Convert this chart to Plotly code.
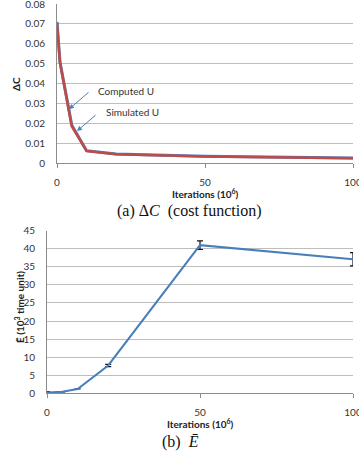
import plotly.graph_objects as go

# ---- data (a) ----
iters_a = [0, 1, 2, 5, 10, 20, 50, 100]
computed_u = [0.071, 0.051, 0.043, 0.019, 0.0062, 0.0045, 0.0034, 0.0025]
simulated_u = [0.0705, 0.0505, 0.0425, 0.0185, 0.006, 0.0044, 0.0033, 0.0024]
yticks_a = [0, 0.01, 0.02, 0.03, 0.04, 0.05, 0.06, 0.07, 0.08]
yticklabels_a = ["0", "0.01", "0.02", "0.03", "0.04", "0.05", "0.06", "0.07", "0.08"]

# ---- data (b) ----
iters_b = [0, 5, 10, 20, 50, 100]
e_bar = [0.2, 0.4, 1.2, 7.7, 41.0, 37.1]
e_err = [0.3, 0.0, 0.0, 0.3, 1.2, 1.85]
yticks_b = [0, 5, 10, 15, 20, 25, 30, 35, 40, 45]
xticks = [0, 50, 100]

W, H = 359, 456
def px(x):
    return x / W
def py(y):
    return 1 - y / H

tick_font = dict(family="Lato, Open Sans, sans-serif", size=10, color="#333333")
grid_col = "#BEBEBE"
axis_col = "#8C8C8C"

fig = go.Figure()

fig.add_trace(go.Scatter(x=iters_a, y=computed_u, mode="lines", name="Computed U",
                         line=dict(color="#4F81BD", width=3), xaxis="x", yaxis="y",
                         showlegend=False))
fig.add_trace(go.Scatter(x=iters_a, y=simulated_u, mode="lines", name="Simulated U",
                         line=dict(color="#BE4B48", width=2.6), xaxis="x", yaxis="y",
                         showlegend=False))

fig.add_trace(go.Scatter(x=iters_b, y=e_bar, mode="lines", name="E",
                         line=dict(color="#4A7EBB", width=2),
                         error_y=dict(type="data", array=e_err, visible=True,
                                      color="#111111", thickness=1.2, width=3),
                         xaxis="x2", yaxis="y2", showlegend=False))

common_x = dict(range=[0, 100], tickvals=xticks, ticktext=[str(v) for v in xticks],
                showgrid=False, showline=True, linecolor=axis_col, linewidth=1,
                ticks="outside", ticklen=4, tickcolor=axis_col, tickfont=tick_font,
                ticklabelstandoff=6, zeroline=False, fixedrange=True, automargin=False,
                ticklabeloverflow="allow")
common_y = dict(showgrid=True, gridcolor=grid_col, gridwidth=1, showline=True,
                linecolor=axis_col, linewidth=1, ticks="", tickfont=tick_font,
                ticklabelstandoff=9, zeroline=False, fixedrange=True, automargin=False,
                ticklabeloverflow="allow")

fig.update_layout(
    width=W, height=H, margin=dict(l=0, r=0, t=0, b=0, pad=0, autoexpand=False), autosize=False,
    paper_bgcolor="white", plot_bgcolor="white",
    xaxis=dict(domain=[px(57), px(353)], anchor="y", **common_x),
    yaxis=dict(domain=[py(163), py(4)], anchor="x", range=[0, 0.08],
               tickvals=yticks_a, ticktext=yticklabels_a, **common_y),
    xaxis2=dict(domain=[px(47), px(353)], anchor="y2", **common_x),
    yaxis2=dict(domain=[py(393.3), py(230.7)], anchor="x2", range=[0, 45],
                tickvals=yticks_b, ticktext=[str(v) for v in yticks_b], **common_y),
)

C = dict(xanchor="center", yanchor="middle", showarrow=False)
ann = []
lab_font = dict(family="Lato, Open Sans, sans-serif", size=10, color="#222222")
ann.append(dict(text="<b>Iterations (10<sup>6</sup>)</b>", xref="paper", yref="paper",
                x=px(205), y=py(193), font=lab_font, **C))
ann.append(dict(text="<b>ΔC</b>", xref="paper", yref="paper", x=px(16), y=py(84),
                textangle=-90, font=lab_font, **C))
ann.append(dict(text="<b>Iterations (10<sup>6</sup>)</b>", xref="paper", yref="paper",
                x=px(200), y=py(423), font=lab_font, **C))
ann.append(dict(text="<b>Ē (10<sup>3</sup> time unit)</b>", xref="paper", yref="paper",
                x=px(19), y=py(307), textangle=-90, font=lab_font, **C))
cap_font = dict(family="Liberation Serif, DejaVu Serif, serif", size=16, color="#111111")
ann.append(dict(text="(a) Δ<i>C</i>  (cost function)", xref="paper", yref="paper",
                x=px(189), y=py(211), font=cap_font, **C))
ann.append(dict(text="(b)  <i>Ē</i>", xref="paper", yref="paper",
                x=px(180), y=py(442), font=cap_font, **C))
ann.append(dict(text="", x=4.05, y=0.0271, xref="x", yref="y", ax=21, ay=-18,
                showarrow=True, arrowhead=2, arrowsize=1, arrowwidth=1,
                arrowcolor="#4F81BD"))
ann.append(dict(text="", x=6.76, y=0.0161, xref="x", yref="y", ax=20, ay=-17,
                showarrow=True, arrowhead=2, arrowsize=1, arrowwidth=1,
                arrowcolor="#4F81BD"))
ser_font = dict(family="Lato, Open Sans, sans-serif", size=10, color="#333333")
ann.append(dict(text="Computed U", x=13.2, y=0.0362, xref="x", yref="y",
                xanchor="left", yanchor="middle", showarrow=False, font=ser_font))
ann.append(dict(text="Simulated U", x=15.9, y=0.0256, xref="x", yref="y",
                xanchor="left", yanchor="middle", showarrow=False, font=ser_font))
fig.update_layout(annotations=ann)

fig.write_html("out.html", config={"displayModeBar": False},
               post_script="document.body.style.margin='0';")
